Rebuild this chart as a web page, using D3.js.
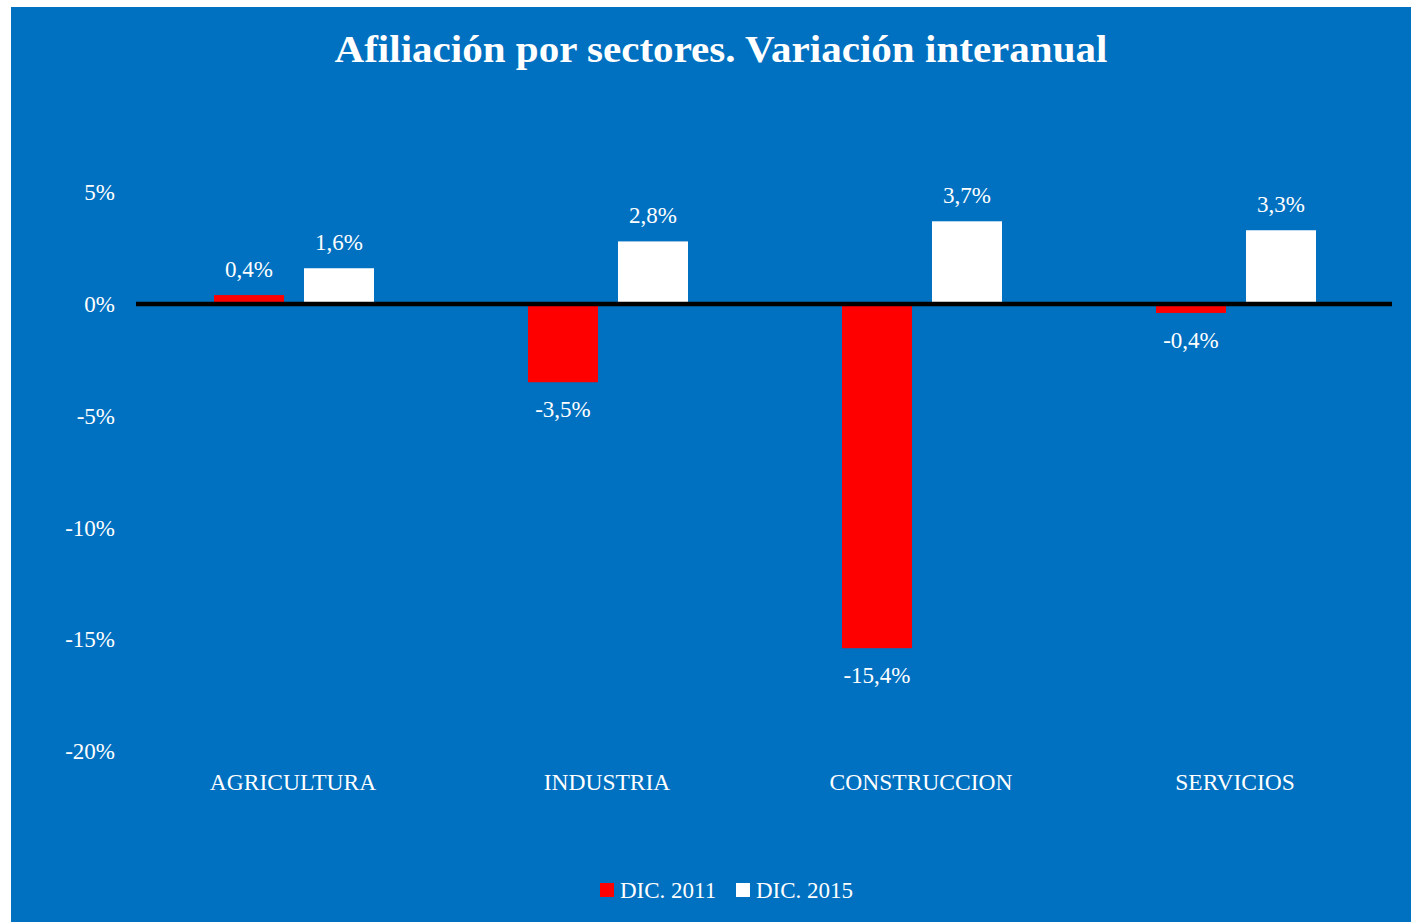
<!DOCTYPE html>
<html>
<head>
<meta charset="utf-8">
<style>
    body { margin: 0; background: #fff; }
    svg { display: block; font-family: 'Liberation Serif', 'DejaVu Serif', serif; }
</style>
</head>
<body>
<svg width="1411" height="922"></svg>
<script src="https://d3js.org/d3.v7.min.js"></script>
<script>

const sectors = ["AGRICULTURA", "INDUSTRIA", "CONSTRUCCION", "SERVICIOS"];
const seriesNames = ["DIC. 2011", "DIC. 2015"];
const dic2011 = [0.4, -3.5, -15.4, -0.4];
const dic2015 = [1.6, 2.8, 3.7, 3.3];
const yTicks = [5, 0, -5, -10, -15, -20];

const colors = { "DIC. 2011": "#ff0000", "DIC. 2015": "#ffffff" };
const fmt = v => v.toFixed(1).replace(".", ",") + "%";

let svg = d3.select("svg");

svg.append("rect")
    .attr("x", 11).attr("y", 7)
    .attr("width", 1400).attr("height", 915)
    .style("fill", "#0070c0");

svg.append("text")
    .attr("x", 721).attr("y", 62)
    .attr("text-anchor", "middle")
    .attr("textLength", 773)
    .attr("lengthAdjust", "spacingAndGlyphs")
    .style("font-size", "37px")
    .style("font-weight", "bold")
    .style("fill", "#fff")
    .text("Afiliación por sectores. Variación interanual");

let y = d3.scaleLinear().domain([-20, 5]).range([751, 192.25]);
let x = d3.scaleBand().domain(sectors).range([136, 1392]);
let xs = d3.scaleBand().domain(seriesNames).range([78, 238]).paddingInner(0.222);

// y tick labels
svg.append("g")
    .selectAll("text")
    .data(yTicks)
    .join("text")
    .attr("x", 115)
    .attr("y", d => y(d) + 8)
    .attr("text-anchor", "end")
    .style("font-size", "23px")
    .style("fill", "#fff")
    .text(d => d + "%");

let rows = [];
sectors.forEach((s, i) => {
    rows.push({ sector: s, serie: "DIC. 2011", value: dic2011[i] });
    rows.push({ sector: s, serie: "DIC. 2015", value: dic2015[i] });
});

svg.append("g")
    .selectAll("rect")
    .data(rows)
    .join("rect")
    .attr("x", d => x(d.sector) + xs(d.serie))
    .attr("width", xs.bandwidth())
    .attr("y", d => y(Math.max(0, d.value)))
    .attr("height", d => Math.abs(y(d.value) - y(0)))
    .style("fill", d => colors[d.serie]);

// zero line
svg.append("line")
    .attr("x1", 136).attr("x2", 1392)
    .attr("y1", y(0)).attr("y2", y(0))
    .style("stroke", "#000")
    .style("stroke-width", 4.5);

// value labels
svg.append("g")
    .selectAll("text")
    .data(rows)
    .join("text")
    .attr("x", d => x(d.sector) + xs(d.serie) + xs.bandwidth() / 2)
    .attr("y", d => d.value >= 0 ? y(d.value) - 18 : y(d.value) + 35)
    .attr("text-anchor", "middle")
    .style("font-size", "23px")
    .style("fill", "#fff")
    .text(d => fmt(d.value));

// category labels
svg.append("g")
    .selectAll("text")
    .data(sectors)
    .join("text")
    .attr("x", d => x(d) + x.bandwidth() / 2)
    .attr("y", 790)
    .attr("text-anchor", "middle")
    .style("font-size", "23.5px")
    .style("fill", "#fff")
    .text(d => d);

// legend
let legendX = [600, 736];
let legend = svg.append("g")
    .selectAll("g")
    .data(seriesNames)
    .join("g")
    .attr("transform", (d, i) => `translate(${legendX[i]}, 883)`);

legend.append("rect")
    .attr("width", 14).attr("height", 14)
    .style("fill", d => colors[d]);

legend.append("text")
    .attr("x", 20).attr("y", 15)
    .style("font-size", "23px")
    .style("fill", "#fff")
    .text(d => d);

</script>
</body>
</html>
